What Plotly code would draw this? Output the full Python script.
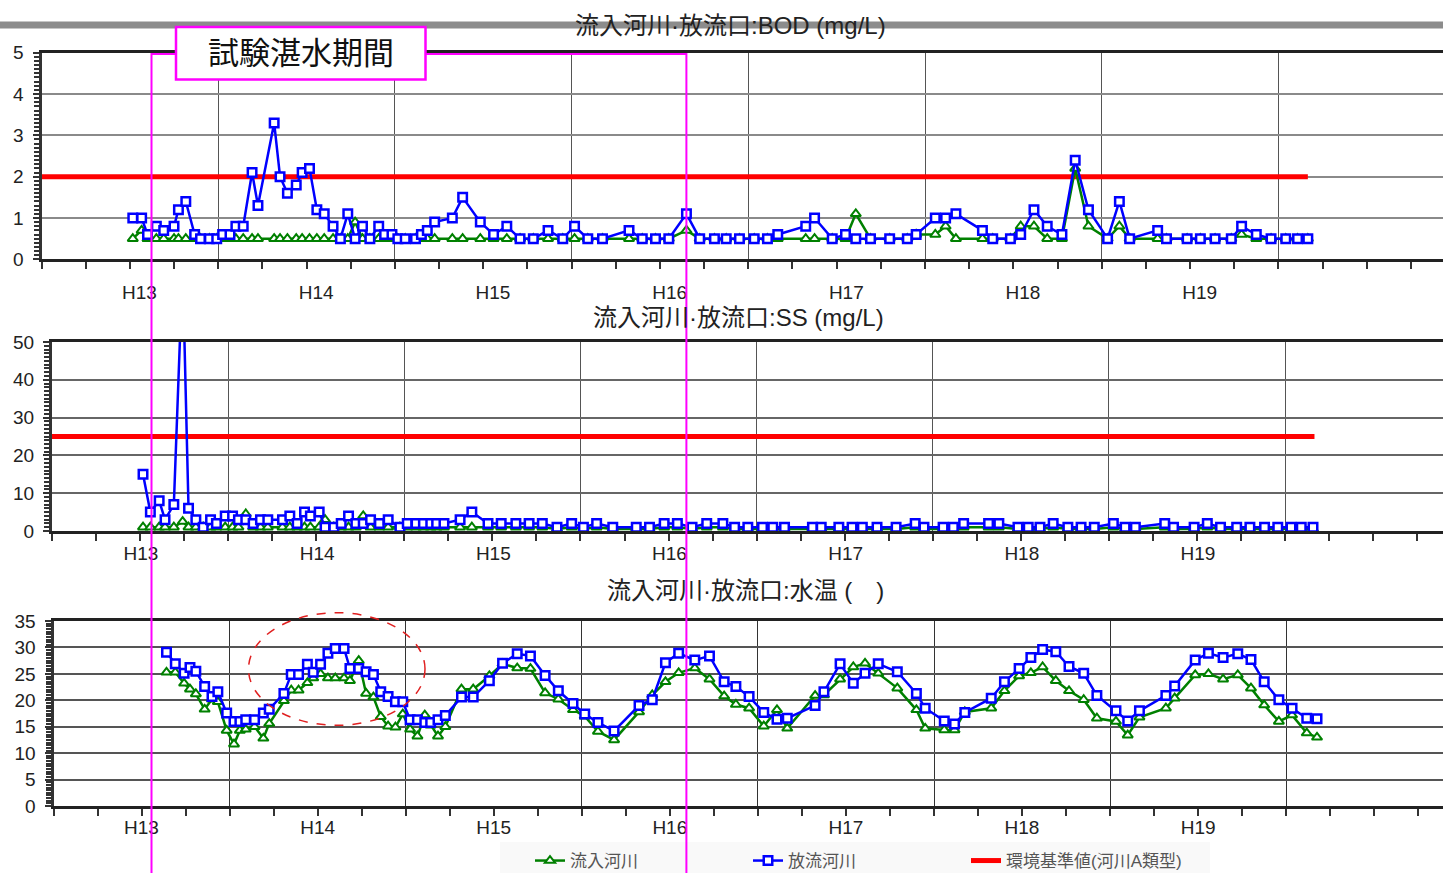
import plotly.graph_objects as go

# ---------------- data (x = months from the start of the H13 axis) ----------------
YEAR_LABELS = ["H13", "H14", "H15", "H16", "H17", "H18", "H19"]
YEAR_TICKS = [0, 12, 24, 36, 48, 60, 72, 84]

BOD_MONTHS = [6.2, 6.8, 7.2, 7.8, 8.3, 9.0, 9.3, 9.8, 10.4, 10.8, 11.4, 11.9, 12.3, 12.8, 13.2, 13.7,
              14.3, 14.7, 15.8, 16.2, 16.7, 17.3, 17.7, 18.2, 18.7, 19.2, 19.8, 20.3, 20.8, 21.3,
              21.8, 22.3, 22.9, 23.3, 23.8, 24.2, 24.7, 25.4, 25.8, 26.2, 26.7, 27.9, 28.6, 29.8,
              30.7, 31.6, 32.5, 33.4, 34.4, 35.4, 36.2, 37.1, 38.1, 39.9, 40.8, 41.7, 42.6, 43.8,
              44.7, 45.7, 46.5, 47.4, 48.4, 49.3, 50.0, 51.9, 52.5, 53.7, 54.6, 55.3, 56.3, 57.6,
              58.8, 59.4, 60.7, 61.4, 62.1, 63.9, 64.6, 65.8, 66.5, 67.4, 68.3, 69.3, 70.2, 71.1,
              72.4, 73.2, 73.9, 75.8, 76.4, 77.8, 78.7, 79.7, 80.8, 81.5, 82.5, 83.5, 84.5, 85.3, 86.0]
BOD_OUTFLOW = [1.0, 1.0, 0.6, 0.8, 0.7, 0.8, 1.2, 1.4, 0.6, 0.5, 0.5, 0.5, 0.6, 0.6, 0.8, 0.8,
               2.1, 1.3, 3.3, 2.0, 1.6, 1.8, 2.1, 2.2, 1.2, 1.1, 0.8, 0.5, 1.1, 0.5, 0.8, 0.5,
               0.8, 0.6, 0.6, 0.5, 0.5, 0.5, 0.6, 0.7, 0.9, 1.0, 1.5, 0.9, 0.6, 0.8, 0.5, 0.5,
               0.7, 0.5, 0.8, 0.5, 0.5, 0.7, 0.5, 0.5, 0.5, 1.1,
               0.5, 0.5, 0.5, 0.5, 0.5, 0.5, 0.6, 0.8, 1.0, 0.5, 0.6, 0.5, 0.5, 0.5, 0.5, 0.6,
               1.0, 1.0, 1.1, 0.7, 0.5, 0.5, 0.6, 1.2, 0.8, 0.6, 2.4, 1.2, 0.5, 1.4, 0.5, 0.7,
               0.5, 0.5, 0.5, 0.5, 0.5, 0.8, 0.6, 0.5, 0.5, 0.5, 0.5]
BOD_INFLOW = [0.5, 0.7, 0.5, 0.5, 0.5, 0.5, 0.5, 0.5, 0.5, 0.5,
              0.5, 0.5, 0.5, 0.5, 0.5, 0.5, 0.5, 0.5, 0.5, 0.5,
              0.5, 0.5, 0.5, 0.5, 0.5, 0.5, 0.5, 0.5, 0.5, 0.9,
              0.5, 0.5, 0.5, 0.5, 0.5, 0.5, 0.5, 0.5, 0.5, 0.5,
              0.5, 0.5, 0.5, 0.5, 0.5, 0.5, 0.5, 0.5, 0.5, 0.5,
              0.5, 0.5, 0.5, 0.5, 0.5, 0.5, 0.5, 0.7,
              0.5, 0.5, 0.5, 0.5, 0.5, 0.5, 0.5, 0.5, 0.5, 0.5,
              0.5, 1.1, 0.5, 0.5, 0.5, 0.6, 0.6, 0.8, 0.5, 0.5,
              0.5, 0.5, 0.8, 0.8, 0.5, 0.5, 2.2, 0.8, 0.5, 0.8,
              0.5, 0.5, 0.5, 0.5, 0.5, 0.5, 0.5, 0.6, 0.5, 0.5,
              0.5, 0.5, 0.5]

SS_MONTHS = [6.2, 6.7, 7.3, 7.7, 8.3, 8.9, 9.3, 9.8, 10.3, 10.8, 11.2, 11.8, 12.3, 12.7, 13.2,
             13.7, 14.2, 14.7, 15.7, 16.2, 16.7, 17.2, 17.6, 18.2, 18.6, 19.2, 19.7, 20.2, 20.7,
             21.2, 21.7, 22.3, 22.9, 23.7, 24.2, 24.8, 25.3, 25.8, 26.2, 26.7, 27.8, 28.6, 29.7,
             30.6, 31.6, 32.5, 33.4, 34.4, 35.4, 36.2, 37.1, 38.2, 39.8, 40.7, 41.7, 42.6, 43.6,
             44.6, 45.7, 46.5, 47.4, 48.4, 49.1, 49.9, 51.8, 52.4, 53.6, 54.5, 55.2, 56.2, 57.5,
             58.8, 59.4, 60.7, 61.4, 62.1, 63.8, 64.5, 65.8, 66.5, 67.3, 68.2, 69.2, 70.1, 71.0,
             72.3, 73.1, 73.8, 75.8, 76.4, 77.8, 78.7, 79.6, 80.7, 81.6, 82.6, 83.5, 84.4, 85.1, 85.9]
SS_OUTFLOW = [15, 5, 8, 3, 7, 70, 6, 3, 1, 3, 2, 4, 4, 3, 3, 2, 3, 3, 3, 4, 2, 5, 4, 5, 1, 1,
              2, 4, 2, 2, 3, 2, 3, 1, 2, 2, 2, 2, 2, 2, 3, 5, 2, 2, 2, 2, 2, 1, 2, 1, 2, 1, 1,
              1, 2, 2, 1,
              2, 2, 1, 1, 1, 1, 1, 1, 1, 1, 1, 1, 1, 1, 2, 1, 1, 1, 2, 2, 2, 1, 1, 1, 2, 1, 1,
              1, 2, 1, 1, 2, 1, 1, 2, 1, 1, 1, 1, 1, 1, 1, 1]
SS_INFLOW = [1, 1, 1, 1, 1, 2.5, 1, 1, 1, 1, 1, 1, 1, 1, 4.5, 1, 1, 1, 1, 1, 1, 1, 1, 1, 3, 1,
             1, 1, 1, 4, 1, 1, 1, 1, 1, 1, 1, 1, 1, 1, 1, 1, 1, 1, 1, 1, 1, 0.5, 1, 0.5, 1, 0.5,
             0.5, 0.5, 1, 1, 0.5,
             1, 1, 0.5, 0.5, 0.5, 0.5, 0.5, 0.5, 0.5, 0.5, 0.5, 0.5, 0.5, 0.5, 1, 0.5, 0.5, 0.5,
             1, 1, 1, 0.5, 0.5, 0.5, 1, 0.5, 0.5, 0.5, 1, 0.5, 0.5, 1, 0.5, 0.5, 1, 0.5, 0.5,
             0.5, 0.5, 0.5, 0.5, 0.5, 0.5]

TEMP_MONTHS = [7.7, 8.3, 8.9, 9.3, 9.7, 10.3, 10.8, 11.2, 11.8, 12.3, 12.7, 13.1, 13.7, 14.3,
               14.7, 15.7, 16.2, 16.7, 17.3, 17.7, 18.2, 18.7, 19.2, 19.8, 20.2, 20.8, 21.3,
               21.8, 22.3, 22.8, 23.3, 23.8, 24.3, 24.8, 25.3, 25.7, 26.2, 26.7, 27.8, 28.6,
               29.7, 30.6, 31.6, 32.5, 33.5, 34.4, 35.4, 36.2, 37.1, 38.2, 39.9, 40.8, 41.7,
               42.6, 43.7, 44.7,
               45.7, 46.5, 47.4, 48.4, 49.3, 50.0, 51.9, 52.5, 53.6, 54.5, 55.3, 56.2, 57.5,
               58.8, 59.4, 60.7, 61.4, 62.1, 63.9, 64.8, 65.8, 66.6, 67.4, 68.3, 69.2, 70.2,
               71.1, 72.4, 73.2, 74.0, 75.8, 76.4, 77.8, 78.7, 79.7, 80.7, 81.6, 82.5, 83.5,
               84.4, 85.4, 86.1]
TEMP_OUTFLOW = [29.1, 26.9, 25.1, 26.2, 25.5, 22.6, 20.7, 21.6, 17.6, 16.0, 16.0, 16.3, 16.3,
                17.6, 18.3, 21.3, 24.9, 24.9, 26.8, 25.3, 26.8, 28.9, 29.8, 29.8, 26.0, 26.0,
                25.4, 24.9, 21.6, 20.7, 19.7, 19.7, 16.3, 16.3, 15.8, 15.8, 16.3, 17.1, 20.6,
                20.6, 23.7, 27.0, 28.8, 28.4, 24.7, 21.8, 19.4, 17.4, 15.8, 14.2, 19.0, 20.1,
                27.1, 28.9, 27.6, 28.4,
                23.5, 22.6, 20.7, 17.7, 16.4, 16.6, 19.0, 21.6, 26.9, 23.2, 25.1, 26.9, 25.4,
                21.3, 18.5, 16.1, 15.5, 17.7, 20.4, 23.5, 26.0, 28.1, 29.6, 29.2, 26.4, 25.1,
                20.9, 18.0, 16.1, 18.0, 20.9, 22.7, 27.6, 28.9, 28.1, 28.8, 27.7, 23.5, 20.1,
                18.5, 16.6, 16.5]
TEMP_INFLOW = [25.3, 25.3, 23.2, 22.1, 21.2, 18.3, 20.2, 19.7, 14.3, 11.7, 14.3, 14.5, 15.0,
               12.8, 15.6, 19.9, 21.9, 21.9, 23.3, 24.2, 25.0, 24.2, 24.2, 24.2, 23.7, 27.5,
               21.3, 20.6, 16.9, 15.1, 14.9, 17.4, 14.5, 13.2, 17.2, 15.3, 13.2, 15.0, 22.1,
               22.1, 24.6, 26.9, 26.1, 26.0, 21.4, 20.2, 18.2, 17.0, 14.1, 12.5, 17.8, 21.0,
               23.5, 25.2, 26.1, 24.0,
               20.8, 19.2, 18.5, 15.1, 18.2, 14.7, 20.9, 21.0, 24.0, 26.3, 27.0, 25.1, 22.3,
               18.2, 14.7, 14.4, 14.4, 17.8, 18.5, 21.8, 24.6, 25.2, 26.3, 23.7, 21.8, 20.1,
               16.6, 16.0, 13.4, 16.8, 18.5, 20.4, 24.8, 25.0, 24.0, 24.8, 22.3, 19.1, 16.0,
               17.2, 13.8, 13.0]

BOD_STANDARD = 2
SS_STANDARD = 25
STANDARD_SPAN = [0, 86]

NAME_IN = "流入河川"
NAME_OUT = "放流河川"
NAME_STD = "環境基準値(河川A類型)"

# ---------------- styling ----------------
W, H = 1443, 873
FONT = "Liberation Sans, Arial, Noto Sans CJK JP, sans-serif"
GREEN = "#008000"
BLUE = "#0000FF"
RED = "#FF0000"
MAGENTA = "#FF00FF"


def px_x(p):
    return p / W


def px_y(p):
    return 1 - p / H


fig = go.Figure()

panels = [
    # (xaxis, yaxis, months, inflow, outflow, standard)
    ("x", "y", BOD_MONTHS, BOD_INFLOW, BOD_OUTFLOW, BOD_STANDARD),
    ("x2", "y2", SS_MONTHS, SS_INFLOW, SS_OUTFLOW, SS_STANDARD),
    ("x3", "y3", TEMP_MONTHS, TEMP_INFLOW, TEMP_OUTFLOW, None),
]

for i, (xa, ya, mx, vin, vout, std) in enumerate(panels):
    first = i == 0
    if std is not None:
        fig.add_trace(go.Scatter(
            x=STANDARD_SPAN, y=[std, std], mode="lines", xaxis=xa, yaxis=ya,
            line=dict(color=RED, width=5), name=NAME_STD, legendgroup="std",
            showlegend=first, legendrank=3, hoverinfo="skip"))
    fig.add_trace(go.Scatter(
        x=mx, y=vin, mode="lines+markers", xaxis=xa, yaxis=ya,
        line=dict(color=GREEN, width=2.5),
        marker=dict(symbol="triangle-up", size=9, color="white",
                    line=dict(color=GREEN, width=2)),
        name=NAME_IN, legendgroup="in", showlegend=first, legendrank=1))
    fig.add_trace(go.Scatter(
        x=mx, y=vout, mode="lines+markers", xaxis=xa, yaxis=ya,
        line=dict(color=BLUE, width=2.5),
        marker=dict(symbol="square", size=8.5, color="white",
                    line=dict(color=BLUE, width=2.5)),
        name=NAME_OUT, legendgroup="out", showlegend=first, legendrank=2))


def xaxis_cfg(left_px, px_per_month, label_shift, standoff, gridcolor):
    return dict(
        domain=[px_x(left_px), 1],
        range=[0, (W - left_px) / px_per_month],
        tickmode="array", tickvals=YEAR_TICKS, ticktext=YEAR_LABELS + [""],
        ticklabelshift=int(label_shift), ticklabelstandoff=int(standoff),
        ticks="outside", ticklen=7, tickwidth=2, tickcolor="#333",
        showline=True, linewidth=3, linecolor="#222", mirror=True,
        showgrid=True, gridcolor=gridcolor, gridwidth=1, zeroline=False,
        minor=dict(tick0=0, dtick=3, ticks="outside", ticklen=7, tickwidth=2,
                   tickcolor="#333", showgrid=False),
        tickfont=dict(family=FONT, size=19, color="#222"),
        fixedrange=True,
    )


def yaxis_cfg(bottom_px, top_px, top_val, major, minor, gridcolor):
    return dict(
        domain=[px_y(bottom_px), px_y(top_px)],
        range=[0, top_val], tick0=0, dtick=major,
        ticks="outside", ticklen=6, tickwidth=2, tickcolor="#333",
        ticklabelstandoff=5,
        showline=True, linewidth=3, linecolor="#333",
        showgrid=True, gridcolor=gridcolor, gridwidth=1.5, zeroline=False,
        minor=dict(tick0=0, dtick=minor, ticks="outside", ticklen=5, tickwidth=1.5,
                   tickcolor="#333", showgrid=False),
        tickfont=dict(family=FONT, size=19, color="#222"),
        fixedrange=True,
    )


fig.update_layout(
    width=W, height=H,
    margin=dict(l=0, r=0, t=0, b=0, autoexpand=False),
    paper_bgcolor="white", plot_bgcolor="white",
    font=dict(family=FONT, color="#222"),
    xaxis=dict(xaxis_cfg(41.5, 14.725, 98, 7, "#555"), anchor="y"),
    yaxis=dict(yaxis_cfg(259.3, 52.7, 5, 1, 0.1, "#8a8a8a"), anchor="x"),
    xaxis2=dict(xaxis_cfg(52, 14.68, 89, -4, "#555"), anchor="y2"),
    yaxis2=dict(yaxis_cfg(531, 342, 50, 10, 1, "#666"), anchor="x2"),
    xaxis3=dict(xaxis_cfg(53.5, 14.675, 88, -5, "#333"), anchor="y3"),
    yaxis3=dict(yaxis_cfg(806, 621, 35, 5, 0.5, "#555"), anchor="x3"),
    showlegend=True,
    legend=dict(orientation="h", x=px_x(530), y=px_y(843), xanchor="left", yanchor="top",
                font=dict(family=FONT, size=17, color="#555"),
                bgcolor="rgba(0,0,0,0)", entrywidth=173, entrywidthmode="pixels",
                traceorder="normal"),
)

# grey header bar
fig.add_shape(type="rect", xref="paper", yref="paper", x0=0, x1=1,
              y0=px_y(28.5), y1=px_y(21.5), fillcolor="#8c8c8c", line_width=0, layer="below")
# faint legend background
fig.add_shape(type="rect", xref="paper", yref="paper", x0=px_x(500), x1=px_x(1210),
              y0=0, y1=px_y(842), fillcolor="#f9f9f9", line_width=0, layer="below")

# titles
titles = [
    ("流入河川·放流口:BOD (mg/L)", 730, 25.5),
    ("流入河川·放流口:SS (mg/L)", 738, 317),
    ("流入河川·放流口:水温 (　)", 746, 590),
]
for text, cx, cy in titles:
    fig.add_annotation(text=text, xref="paper", yref="paper", x=px_x(cx), y=px_y(cy),
                       showarrow=False, xanchor="center", yanchor="middle",
                       font=dict(family=FONT, size=24, color="#222"))

# test impoundment period bracket (magenta)
xa, xb, ytop = px_x(151.5), px_x(686.4), px_y(54)
fig.add_shape(type="path", xref="paper", yref="paper",
              path=f"M {xa},0 L {xa},{ytop} L {xb},{ytop} L {xb},0",
              line=dict(color=MAGENTA, width=2), layer="above")
fig.add_shape(type="rect", xref="paper", yref="paper",
              x0=px_x(176), x1=px_x(425.5), y0=px_y(79.5), y1=px_y(27),
              fillcolor="white", line=dict(color=MAGENTA, width=2.5), layer="above")
fig.add_annotation(text="試験湛水期間", xref="paper", yref="paper",
                   x=px_x(300.7), y=px_y(53), showarrow=False,
                   xanchor="center", yanchor="middle",
                   font=dict(family=FONT, size=31, color="#111"))

# red dashed ellipse on the temperature panel
fig.add_shape(type="circle", xref="paper", yref="paper",
              x0=px_x(248.5), x1=px_x(425), y0=px_y(725.3), y1=px_y(612.7),
              line=dict(color="#E02020", width=1.5, dash="dash"), layer="above")

fig.write_html("out.html")
